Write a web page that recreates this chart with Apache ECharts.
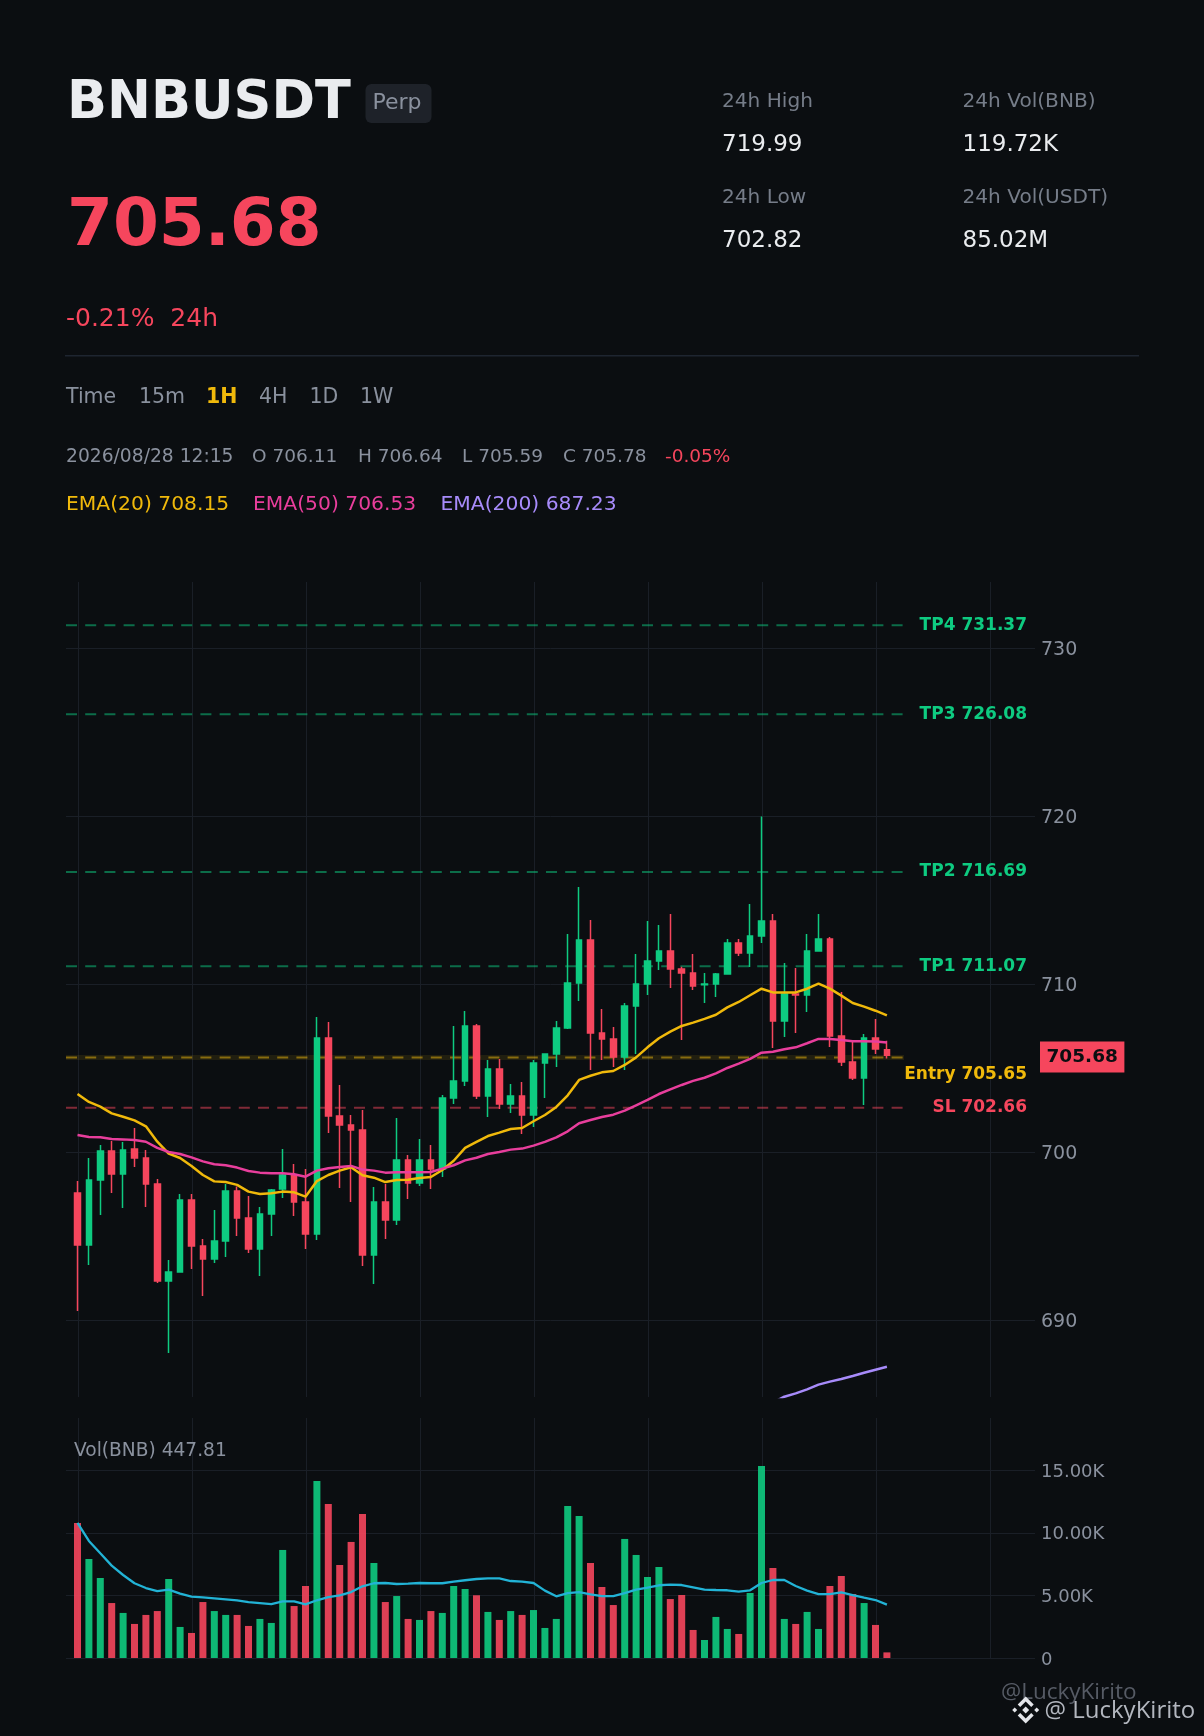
<!DOCTYPE html>
<html><head><meta charset="utf-8"><title>BNBUSDT</title>
<style>html,body{margin:0;padding:0;background:#0b0e11}#c{width:1204px;height:1736px}</style>
<script src="https://cdn.jsdelivr.net/npm/echarts@6/dist/echarts.min.js"></script>
</head><body><div id="c"></div>
<script>
const opens=[697.58,694.48,698.35,700.08,698.71,700.20,699.66,698.12,692.34,692.88,697.16,694.42,693.65,694.72,697.70,696.09,694.25,696.33,697.82,698.65,697.04,695.14,706.81,702.16,701.63,701.33,693.89,697.04,695.97,699.54,698.17,699.54,699.01,703.23,704.25,707.52,703.35,704.96,702.88,703.35,702.22,705.32,705.85,707.40,710.08,712.64,707.10,706.75,705.67,708.71,710.02,711.39,711.98,710.91,710.67,709.98,710.02,710.62,712.46,711.87,712.88,713.77,707.82,709.42,709.37,711.98,712.70,706.92,705.38,704.42,706.81,706.11];
const closes=[694.48,698.35,700.08,698.71,700.14,699.66,698.12,692.34,692.88,697.16,694.42,693.65,694.72,697.70,696.09,694.25,696.33,697.76,698.65,697.04,695.14,706.81,702.16,701.63,701.33,693.89,697.04,695.97,699.54,698.17,699.54,699.01,703.23,704.25,707.52,703.35,704.96,702.88,703.35,702.22,705.32,705.85,707.40,710.08,712.64,707.10,706.75,705.67,708.71,710.02,711.39,711.98,710.91,710.67,709.90,710.02,710.62,712.46,711.87,712.88,713.77,707.82,709.42,709.37,711.98,712.70,706.92,705.38,704.42,706.81,706.15,705.78];
const highs=[698.29,699.66,700.44,700.67,700.62,701.45,700.14,698.41,693.59,697.52,697.52,694.84,696.57,698.12,697.96,697.40,696.75,697.82,700.20,699.31,699.01,708.06,707.76,704.01,702.22,702.52,697.94,698.12,702.04,699.84,700.79,700.44,703.41,707.52,708.41,707.64,705.50,705.56,704.07,704.19,705.50,705.85,707.82,713.00,715.79,713.83,708.53,707.46,708.89,711.81,713.77,713.53,714.19,711.05,711.81,710.67,710.67,712.70,712.70,714.78,719.99,714.19,711.27,710.97,713.00,714.19,712.82,709.54,706.57,707.04,707.94,706.64];
const lows=[690.56,693.29,696.27,697.58,696.69,699.13,696.75,692.22,688.06,692.88,693.06,691.45,693.41,693.77,695.02,694.01,692.64,695.02,697.28,696.21,694.25,694.78,701.15,697.88,697.04,693.23,692.16,694.84,695.67,697.22,698.00,697.82,698.53,702.88,703.95,703.17,702.10,702.58,702.34,701.09,701.51,703.23,705.08,707.34,709.01,704.90,705.50,705.08,704.90,705.85,709.37,710.85,709.78,706.69,709.66,708.89,709.25,710.62,711.69,711.03,712.46,706.21,706.87,707.10,708.35,711.98,706.27,705.14,704.31,702.82,705.85,705.59];
const ema20=[703.47,703.00,702.72,702.32,702.12,701.90,701.55,700.63,699.92,699.66,699.19,698.65,698.27,698.23,698.06,697.66,697.52,697.56,697.66,697.62,697.36,698.29,698.65,698.91,699.11,698.63,698.49,698.23,698.35,698.37,698.47,698.53,698.95,699.50,700.26,700.62,700.97,701.17,701.39,701.45,701.85,702.22,702.70,703.39,704.31,704.56,704.76,704.84,705.20,705.65,706.25,706.79,707.18,707.52,707.72,707.94,708.19,708.63,708.95,709.35,709.74,709.52,709.52,709.52,709.74,710.04,709.74,709.33,708.89,708.67,708.43,708.15];
const ema50=[701.03,700.91,700.89,700.79,700.77,700.73,700.63,700.26,700.02,699.90,699.70,699.46,699.29,699.23,699.09,698.89,698.79,698.75,698.75,698.69,698.55,698.91,699.05,699.13,699.19,698.97,698.91,698.79,698.81,698.81,698.81,698.83,699.03,699.23,699.52,699.68,699.90,700.02,700.16,700.22,700.40,700.62,700.89,701.25,701.73,701.92,702.10,702.24,702.48,702.80,703.12,703.47,703.75,704.01,704.25,704.44,704.70,705.02,705.28,705.56,705.93,705.99,706.13,706.25,706.49,706.75,706.75,706.69,706.61,706.61,706.59,706.53];
const ema200Visible=[685.10,685.45,685.65,685.89,686.17,686.35,686.51,686.68,686.88,687.06,687.23];
const ema200FirstIndex=61;
const volumes=[10.79,7.91,6.39,4.39,3.60,2.72,3.44,3.75,6.31,2.48,2.00,4.47,3.75,3.44,3.44,2.56,3.12,2.80,8.63,4.15,5.75,14.14,12.30,7.43,9.27,11.50,7.59,4.47,4.95,3.12,3.04,3.75,3.60,5.75,5.51,5.01,3.68,3.04,3.75,3.44,3.83,2.40,3.12,12.14,11.34,7.59,5.67,4.23,9.51,8.23,6.47,7.27,4.71,5.03,2.24,1.44,3.28,2.32,1.92,5.19,15.34,7.19,3.12,2.72,3.68,2.32,5.75,6.55,5.11,4.39,2.64,0.448];
const volMA=[10.79,9.35,8.36,7.38,6.63,5.97,5.59,5.35,5.46,5.14,4.90,4.85,4.77,4.69,4.61,4.47,4.39,4.31,4.53,4.53,4.29,4.61,4.87,5.01,5.27,5.73,5.97,5.99,5.91,5.94,5.99,5.97,5.97,6.10,6.21,6.31,6.36,6.36,6.15,6.10,5.99,5.38,4.93,5.19,5.27,5.09,4.95,4.95,5.19,5.46,5.62,5.81,5.86,5.83,5.65,5.46,5.43,5.41,5.30,5.41,5.99,6.23,6.23,5.75,5.38,5.11,5.11,5.25,5.03,4.82,4.63,4.26];
const levelNames=['TP4','TP3','TP2','TP1','Entry','SL'];
const levelValues=[731.37,726.08,716.69,711.07,705.65,702.66];
const priceTicks=[690,700,710,720,730];
const volTicks=[0,5,10,15];
const timeTicks=[0,10,20,30,40,50,60,70,80];
const lastPrice=705.68;

const GREEN='#0ecb81',RED='#f6465d',GOLD='#f0b90b',PINK='#e83e9c',PURPLE='#a78bfa',CYAN='#22b3d6',
      BG='#0b0e11',GRID='#1a1f27',GREY='#8a919e',DIM='#767d89',WHITE='#eaecef';
const FONT='"DejaVu Sans"';
const X_MIN=-1.009,X_MAX=83.99,LEVEL_END=72.5,LABEL_X=83.29,GRID_SHIFT=0.07;
const levelColors=[GREEN,GREEN,GREEN,GREEN,GOLD,RED];
const labelOffsets=[0,0,0,0,17,0];
const idx=opens.map((_,i)=>i);

const xAxisBase={type:'value',min:X_MIN,max:X_MAX,axisLine:{show:false},axisLabel:{show:false},
  axisTick:{show:false,customValues:timeTicks.map(t=>t+GRID_SHIFT)},splitLine:{show:true,lineStyle:{color:GRID,width:1}}};

const levelSeries=levelNames.flatMap((n,i)=>{
  const out=[];
  if(n==='Entry')out.push({type:'line',xAxisIndex:0,yAxisIndex:0,silent:true,symbol:'none',z:1,
    data:[[X_MIN,levelValues[i]],[LEVEL_END,levelValues[i]]],lineStyle:{color:levelColors[i],width:5,opacity:.1}});
  out.push({type:'line',name:n,xAxisIndex:0,yAxisIndex:0,silent:true,symbol:'none',z:1,
    data:[[X_MIN,levelValues[i]],[LEVEL_END,levelValues[i]]],
    lineStyle:{color:levelColors[i],width:2,opacity:.5,type:[11,8.2]}});
  out.push({type:'scatter',xAxisIndex:0,yAxisIndex:0,silent:true,symbolSize:0,z:6,itemStyle:{opacity:1},
    data:[[LABEL_X,levelValues[i]]],
    label:{show:true,position:'left',distance:0,offset:[0,labelOffsets[i]],formatter:n+' '+levelValues[i].toFixed(2),
      color:levelColors[i],fontFamily:FONT,fontWeight:'bold',fontSize:17,opacity:1}});
  return out;
});

const texts=[
 ['BNBUSDT',67,104,WHITE,'bold 52.5px'],['Perp',372.5,103,GREY,'22px'],
 ['24h High',722,102,DIM,'20.1px'],['719.99',722,145,WHITE,'23px'],
 ['24h Vol(BNB)',962.5,102,DIM,'20.1px'],['119.72K',962.5,145,WHITE,'23px'],
 ['24h Low',722,198,DIM,'20.1px'],['702.82',722,241,WHITE,'23px'],
 ['24h Vol(USDT)',962.5,198,DIM,'20.1px'],['85.02M',962.5,241,WHITE,'23px'],
 ['705.68',67,228,RED,'bold 66px'],['-0.21%  24h',66,319,RED,'25px'],
 ['Time',66,398,GREY,'20.5px'],['15m',139,398,GREY,'20.5px'],['1H',206,398,GOLD,'bold 20.5px'],['4H',259,398,GREY,'20.5px'],['1D',309.5,398,GREY,'20.5px'],['1W',360,398,GREY,'20.5px'],
 ['2026/08/28 12:15',66,457,GREY,'18.7px'],['O 706.11',252,457,GREY,'18.5px'],['H 706.64',358,457,GREY,'18.5px'],['L 705.59',462,457,GREY,'18.5px'],['C 705.78',563,457,GREY,'18.5px'],['-0.05%',665,457,RED,'18.5px'],
 ['EMA(20) 708.15',66,504.5,GOLD,'20.3px'],['EMA(50) 706.53',253,504.5,PINK,'20.3px'],['EMA(200) 687.23',440.5,504.5,PURPLE,'20.3px'],
 ['Vol(BNB) 447.81',74,1451,GREY,'18.6px']
];
const graphic=[
 {type:'rect',z:50,shape:{x:365.5,y:84,width:66,height:39,r:6},style:{fill:'#1e2229'}},
 {type:'rect',z:50,shape:{x:65,y:355,width:1074,height:1.5},style:{fill:'#1e2530'}},
 ...texts.map(t=>({type:'text',z:51,x:t[1],y:t[2],style:{text:t[0],fill:t[3],font:t[4]+' '+FONT,textVerticalAlign:'middle',textAlign:'left'}})),
 {type:'text',z:52,x:1001,y:1693,style:{text:'@LuckyKirito',fill:'#565b65',font:'22.5px "Open Sans"',textVerticalAlign:'middle'}},
 {type:'text',z:53,x:1044.5,y:1711,style:{text:'@ LuckyKirito',fill:'#b3b7bf',font:'24px "Open Sans"',textVerticalAlign:'middle'}},
 {type:'group',z:53,x:1025.7,y:1710,children:[
   [[0,-3.5],[3.5,0],[0,3.5],[-3.5,0]],
   [[-11,-2.5],[-8.5,0],[-11,2.5],[-13.5,0]],
   [[11,-2.5],[13.5,0],[11,2.5],[8.5,0]],
   [[0,-13.5],[8,-5.5],[5.5,-3],[0,-8.5],[-5.5,-3],[-8,-5.5]],
   [[0,13.5],[8,5.5],[5.5,3],[0,8.5],[-5.5,3],[-8,5.5]]
 ].map(p=>({type:'polygon',z:53,shape:{points:p},style:{fill:'#e4e6ea'}}))}
];

const option={
 backgroundColor:BG,animation:false,textStyle:{fontFamily:FONT},graphic,
 grid:[
  {left:66,top:582,width:969,height:815},
  {left:66,top:1418,width:969,height:240}
 ],
 xAxis:[Object.assign({gridIndex:0},xAxisBase),Object.assign({gridIndex:1},xAxisBase)],
 yAxis:[
  {gridIndex:0,type:'value',position:'right',min:685.434,max:733.95,axisLine:{show:false},
   axisTick:{show:false,customValues:priceTicks},
   axisLabel:{customValues:priceTicks,formatter:v=>String(v),color:GREY,fontFamily:FONT,fontSize:19,margin:6,verticalAlign:'top',lineHeight:4},
   splitLine:{show:true,lineStyle:{color:GRID,width:1}}},
  {gridIndex:1,type:'value',position:'right',min:0,max:19.17,axisLine:{show:false},
   axisTick:{show:false,customValues:volTicks},
   axisLabel:{customValues:volTicks,formatter:v=>v===0?'0':v.toFixed(2)+'K',color:GREY,fontFamily:FONT,fontSize:18,margin:6,verticalAlign:'top',lineHeight:4},
   splitLine:{show:true,lineStyle:{color:GRID,width:1}}}
 ],
 series:[
  ...levelSeries,
  {type:'candlestick',xAxisIndex:0,yAxisIndex:0,z:3,barWidth:6,clip:true,
   encode:{x:0,y:[1,2,3,4]},
   data:idx.map(i=>[i,opens[i],closes[i],lows[i],highs[i]]),
   itemStyle:{color:GREEN,color0:RED,borderColor:GREEN,borderColor0:RED,borderWidth:1.5}},
  {type:'line',name:'EMA(20)',xAxisIndex:0,yAxisIndex:0,z:4,symbol:'none',data:idx.map(i=>[i,ema20[i]]),lineStyle:{color:GOLD,width:2.5}},
  {type:'line',name:'EMA(50)',xAxisIndex:0,yAxisIndex:0,z:4,symbol:'none',data:idx.map(i=>[i,ema50[i]]),lineStyle:{color:PINK,width:2.5}},
  {type:'line',name:'EMA(200)',xAxisIndex:0,yAxisIndex:0,z:4,symbol:'none',clip:true,data:ema200Visible.map((v,i)=>[ema200FirstIndex+i,v]),lineStyle:{color:PURPLE,width:2.5}},
  {type:'scatter',xAxisIndex:0,yAxisIndex:0,silent:true,symbolSize:0,z:7,clip:false,itemStyle:{opacity:1},data:[[X_MAX,lastPrice]],
   label:{show:true,position:'right',distance:5,formatter:lastPrice.toFixed(2),color:BG,fontFamily:FONT,fontWeight:'bold',fontSize:18.5,opacity:1,
     backgroundColor:RED,padding:[5,6.5],lineHeight:21}},
  {type:'bar',name:'Vol',xAxisIndex:1,yAxisIndex:1,z:3,barWidth:7,data:idx.map(i=>[i,volumes[i]]),
   itemStyle:{opacity:.9,color:p=>closes[p.dataIndex]>=opens[p.dataIndex]?GREEN:RED}},
  {type:'line',name:'Vol MA',xAxisIndex:1,yAxisIndex:1,z:4,symbol:'none',data:idx.map(i=>[i,volMA[i]]),lineStyle:{color:CYAN,width:2.3}}
 ]
};
echarts.init(document.getElementById('c')).setOption(option);
</script></body></html>
